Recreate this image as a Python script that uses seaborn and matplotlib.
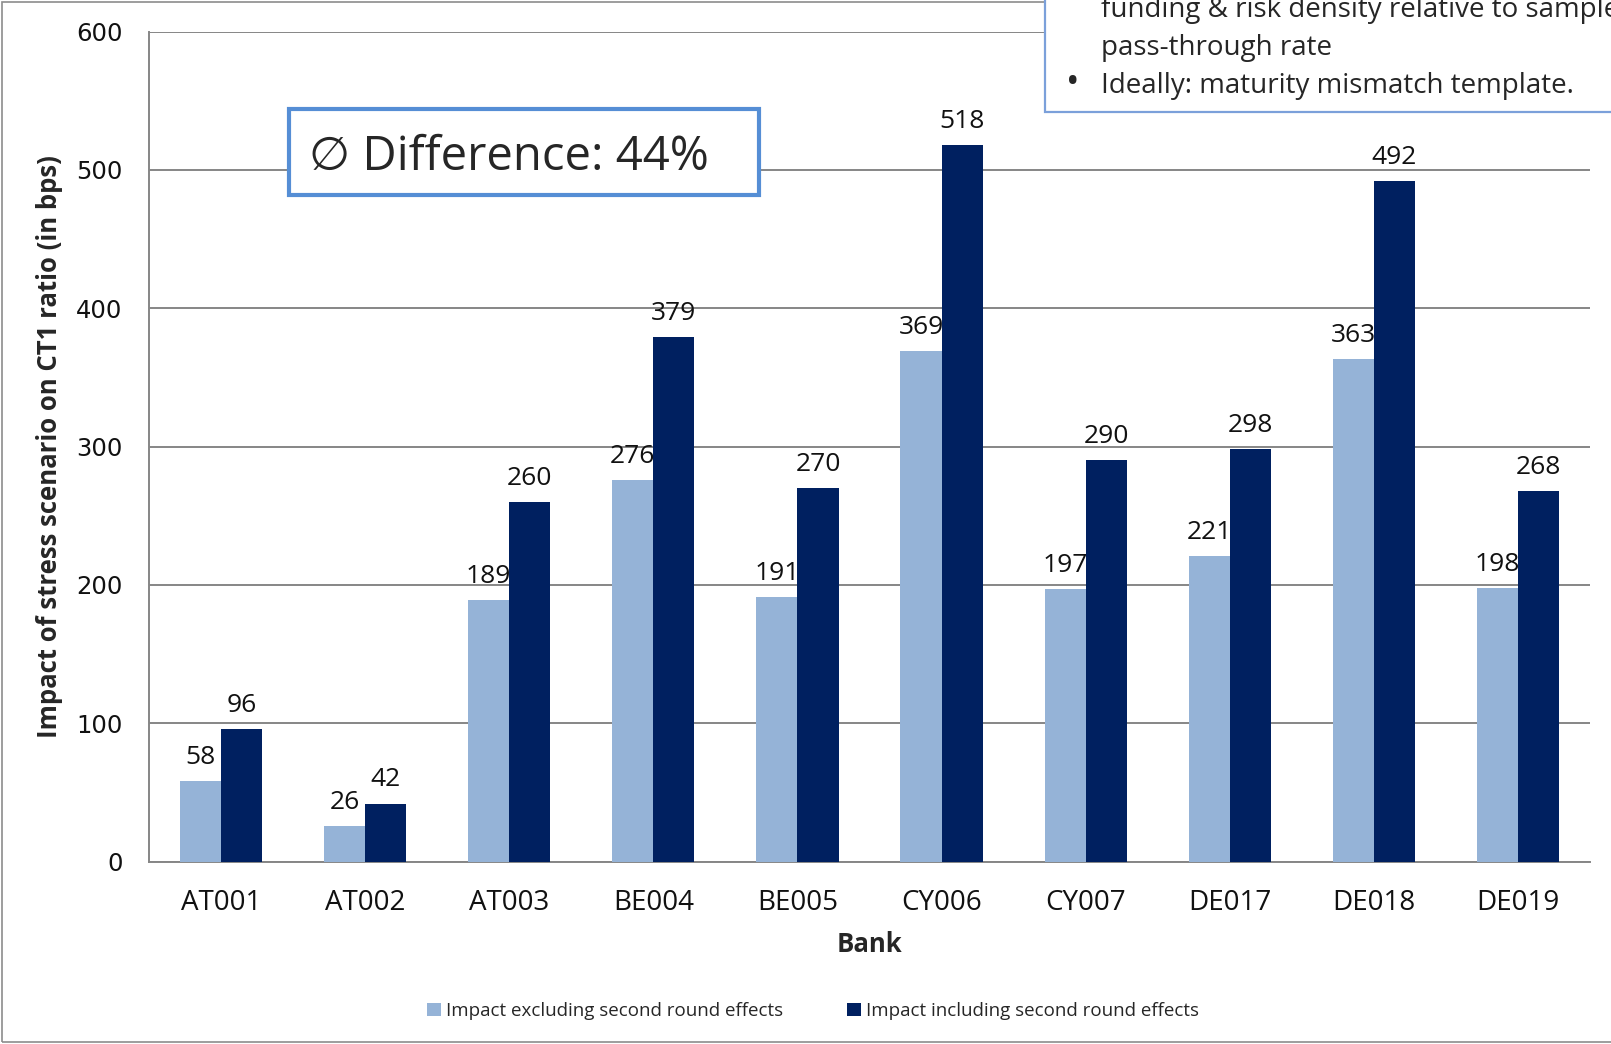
import matplotlib
matplotlib.use("Agg")
import matplotlib.pyplot as plt
from matplotlib import font_manager
from matplotlib.patches import Rectangle, Patch
import pandas as pd
import seaborn as sns

# Data
banks = ["AT001", "AT002", "AT003", "BE004", "BE005",
         "CY006", "CY007", "DE017", "DE018", "DE019"]
impact_excl = [58, 26, 189, 276, 191, 369, 197, 221, 363, 198]
impact_incl = [96, 42, 260, 379, 270, 518, 290, 298, 492, 268]
series_names = ["Impact excluding second round effects",
                "Impact including second round effects"]
yticks = [0, 100, 200, 300, 400, 500, 600]

LIGHT = "#95B3D7"
DARK = "#002060"
GRID = "#868686"

df = pd.DataFrame({
    "Bank": banks * 2,
    "Series": [series_names[0]] * len(banks) + [series_names[1]] * len(banks),
    "Value": impact_excl + impact_incl,
})

sns.set_style("white")
plt.rcParams["font.family"] = ["Open Sans", "DejaVu Sans"]

available = {f.name for f in font_manager.fontManager.ttflist}
NARROW = "Liberation Sans Narrow" if "Liberation Sans Narrow" in available else "Open Sans"

W, H = 1611, 1044
fig = plt.figure(figsize=(W / 100, H / 100), dpi=100)
fig.patch.set_facecolor("white")

def fx(px):
    return px / W

def fy(py):
    return 1 - py / H

x0, x1, ytop, ybot = 149, 1590, 31.5, 861.7
ax = fig.add_axes([fx(x0), fy(ybot), fx(x1 - x0), (ybot - ytop) / H])

sns.barplot(data=df, x="Bank", y="Value", hue="Series",
            palette=[LIGHT, DARK], width=0.57, saturation=1,
            ax=ax, legend=False, zorder=3, linewidth=0, edgecolor="none")

ax.set_xlim(-0.5, len(banks) - 0.5)
ax.set_ylim(0, 600)
ax.set_yticks(yticks)
ax.yaxis.grid(True, color=GRID, linewidth=1.4, zorder=0)
ax.set_axisbelow(True)
for side in ("top", "right"):
    ax.spines[side].set_visible(False)
for side in ("left", "bottom"):
    ax.spines[side].set_color(GRID)
    ax.spines[side].set_linewidth(1.4)

ax.tick_params(axis="y", length=7, width=1.4, color=GRID, pad=12,
               labelsize=17.5, labelcolor="#111111")
for lbl in ax.get_yticklabels():
    lbl.set_fontfamily("DejaVu Sans")
ax.tick_params(axis="x", length=0, pad=20, labelsize=20, labelcolor="#111111")

for cont in ax.containers:
    ax.bar_label(cont, padding=8, fontsize=19, color="#111111", zorder=5)

ax.set_xlabel("Bank", fontsize=18.5, fontweight="bold")
ax.xaxis.set_label_coords(0.5, (ybot - 945) / (ybot - ytop))
ax.xaxis.label.set_va("center")

ax.set_ylabel("Impact of stress scenario on CT1 ratio (in bps)",
              fontsize=18.5, fontweight="bold", family=NARROW)
ax.yaxis.set_label_coords((50 - x0) / (x1 - x0), 0.5)
ax.yaxis.label.set_va("center")

# Legend
handles = [Patch(facecolor=LIGHT, edgecolor="none"),
           Patch(facecolor=DARK, edgecolor="none")]
fig.legend(handles, series_names, loc="center", ncol=2,
           bbox_to_anchor=(fx(813), fy(1011)), frameon=False,
           prop={"family": NARROW, "size": 13.5},
           handlelength=0.75, handleheight=0.75, handletextpad=0.25,
           columnspacing=3.4)

# Outer frame (left, top, bottom edges; right side runs off the page)
fig.patches.append(Rectangle((fx(2), fy(1042)), fx(1700), (1042 - 1.5) / H,
                             transform=fig.transFigure, fill=False,
                             edgecolor="#8C8C8C", linewidth=1.2, zorder=0))

# Average difference box
fig.patches.append(Rectangle((fx(289), fy(195)), fx(759 - 289), (195 - 109) / H,
                             transform=fig.transFigure, facecolor="white",
                             edgecolor="#558ED5", linewidth=3, zorder=10))
fig.text(fx(309), fy(157), "\u2205 Difference: 44%", fontsize=34,
         va="center", ha="left", zorder=11,
         family=["Open Sans", "DejaVu Sans"])

# Notes box in the top-right corner
fig.patches.append(Rectangle((fx(1045), fy(112)), fx(700), (112 + 50) / H,
                             transform=fig.transFigure, facecolor="white",
                             edgecolor="#7BA0DA", linewidth=1.6, zorder=10))
note_size = 20
fig.text(fx(1101), fy(16.5), "funding & risk density relative to sample",
         fontsize=note_size, va="baseline", ha="left", zorder=11)
fig.text(fx(1101), fy(54.5), "pass-through rate",
         fontsize=note_size, va="baseline", ha="left", zorder=11)
fig.text(fx(1066), fy(93), "\u2022", fontsize=26,
         va="baseline", ha="left", zorder=11)
fig.text(fx(1101), fy(92.5), "Ideally: maturity mismatch template.",
         fontsize=note_size, va="baseline", ha="left", zorder=11)

fig.savefig("out.png", dpi=100, facecolor="white")
